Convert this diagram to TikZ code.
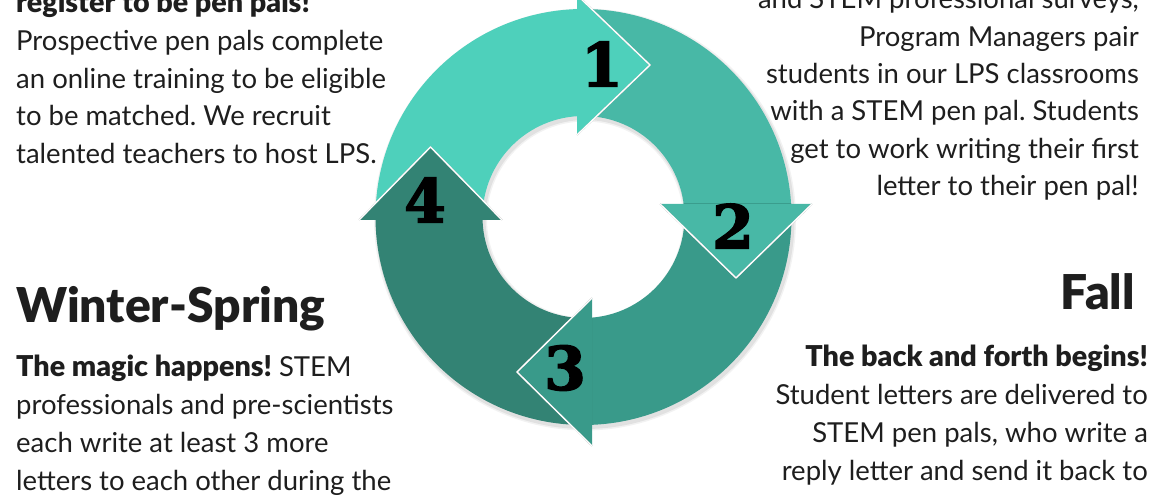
\documentclass[tikz,border=0pt]{standalone}
\usepackage{fontspec}
\setmainfont{Lato}
\newfontfamily\headfont{Lato Black}
\newfontfamily\numfont[BoldFeatures={FakeBold=2.5}]{DejaVu Serif}
\usetikzlibrary{positioning}

\definecolor{ink}{RGB}{30,30,30}
\definecolor{ringA}{RGB}{78,208,187}
\definecolor{ringB}{RGB}{72,184,166}
\definecolor{ringC}{RGB}{57,154,138}
\definecolor{ringD}{RGB}{51,131,116}

% bold lead-in phrases
\newcommand{\lead}[1]{{\headfont\fontsize{28.7}{30}\selectfont #1}}

\tikzset{
	txt/.style={inner sep=0pt, text=ink, font=\fontsize{27.5}{30}\selectfont\frenchspacing},
	lefttxt/.style={txt, anchor=base west},
	righttxt/.style={txt, anchor=base east},
	season/.style={inner sep=0pt, text=ink, font=\headfont\fontsize{48}{50}\selectfont},
	stepnum/.style={inner sep=0pt, text=black, font=\numfont\bfseries\fontsize{60}{60}\selectfont},
	tipedge/.style={draw=white, line width=1.3pt, line join=round}
}

\begin{document}
\begin{tikzpicture}[x=1pt, y=1pt]
	\useasboundingbox (0,0) rectangle (1170,500);
	\coordinate (ctr) at (583.5,283);
	% soft shadow of the ring
	\foreach \r/\o in {3/0.05, 1.5/0.07}
		\fill[black, opacity=\o, even odd rule] ([shift={(1.5,-2.5)}]ctr) circle[radius=208+\r] ([shift={(1.5,-2.5)}]ctr) circle[radius=101-\r];
	% ring bodies
	\begin{scope}
		\clip (0,280) rectangle (577,520);
		\fill[ringA, even odd rule] (ctr) circle[radius=208] (ctr) circle[radius=101];
	\end{scope}
	\begin{scope}
		\clip (577,296) rectangle (1000,520);
		\fill[ringB, even odd rule] (ctr) circle[radius=208] (ctr) circle[radius=101];
	\end{scope}
	\begin{scope}
		\clip (592,0) rectangle (1000,296);
		\fill[ringC, even odd rule] (ctr) circle[radius=208] (ctr) circle[radius=101];
	\end{scope}
	\begin{scope}
		\clip (0,0) rectangle (592,280);
		\fill[ringD, even odd rule] (ctr) circle[radius=208] (ctr) circle[radius=101];
	\end{scope}
	% arrow heads
	\coordinate (h1a) at (577,505);   \coordinate (h1t) at (650,435);   \coordinate (h1b) at (577,365);
	\coordinate (h2a) at (660,296);   \coordinate (h2t) at (736,222);   \coordinate (h2b) at (812,296);
	\coordinate (h3a) at (592,202);   \coordinate (h3t) at (517,128);   \coordinate (h3b) at (592,54);
	\coordinate (h4a) at (359,280);   \coordinate (h4t) at (430.5,353); \coordinate (h4b) at (502,280);
	\foreach \k/\col in {1/ringA, 2/ringB, 3/ringC, 4/ringD}{
		\fill[\col] (h\k a) -- (h\k t) -- (h\k b) -- cycle;
		\draw[gray!60, line width=1.4pt, shift={(0.8,-1)}] (h\k a) -- (h\k t) -- (h\k b);
		\draw[tipedge] (h\k a) -- (h\k t) -- (h\k b);
	}
	% step numbers
	\node[stepnum] (n1) at (602,436) {1};
	\node[stepnum] (n2) at (733,274) {2};
	\node[stepnum] (n3) at (565,132) {3};
	\node[stepnum] (n4) at (425,300) {4};

	% text blocks
	\foreach \line [count=\i] in {{\lead{register to be pen pals!}}, {Prospective pen pals complete},
		{an online training to be eligible}, {to be matched. We recruit}, {talented teachers to host LPS.}}
		\node[lefttxt] (reg\i) at (16,{487-37.6*(\i-1)}) {\line};
	\foreach \line [count=\i] in {{and STEM professional surveys,}, {Program Managers pair},
		{students in our LPS classrooms}, {with a STEM pen pal. Students}, {get to work writing their first},
		{letter to their pen pal!}}
		\node[righttxt] (pair\i) at (1139,{491-37.3*(\i-1)}) {\line};
	\node[season, anchor=base west] (winter) at (16,177) {Winter-Spring};
	\foreach \line [count=\i] in {{\lead{The magic happens!} STEM}, {professionals and pre-scientists},
		{each write at least 3 more}, {letters to each other during the}}
		\node[lefttxt] (magic\i) at (16,{123-37.7*(\i-1)}) {\line};
	\node[season, anchor=base east] (fall) at (1135,190) {Fall};
	\foreach \line [count=\i] in {{\lead{The back and forth begins!}}, {Student letters are delivered to},
		{STEM pen pals, who write a}, {reply letter and send it back to}}
		\node[righttxt] (back\i) at (1148,{133-37.7*(\i-1)}) {\line};
\end{tikzpicture}
\end{document}
